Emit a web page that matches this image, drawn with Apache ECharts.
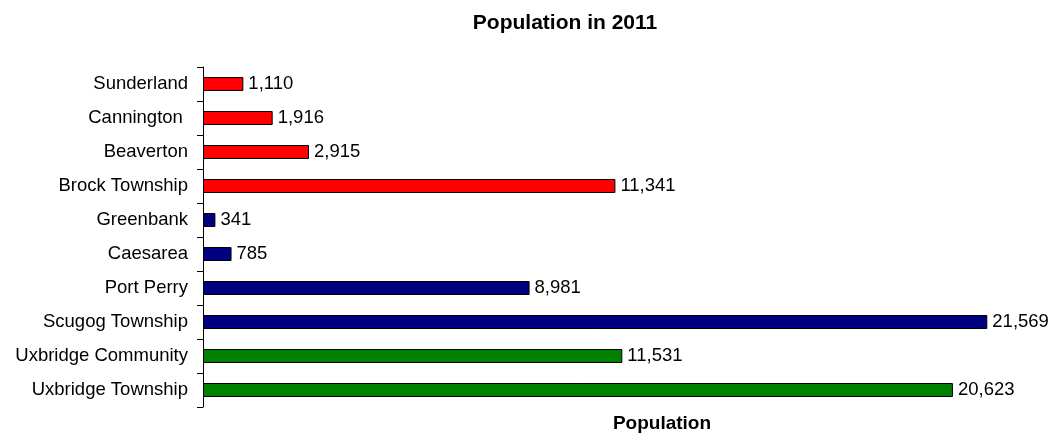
<!DOCTYPE html>
<html>
<head>
<meta charset="utf-8">
<script src="https://cdn.jsdelivr.net/npm/echarts@6/dist/echarts.min.js"></script>
<style>
  html, body { margin: 0; padding: 0; background: #fff; }
  #chart { width: 1054px; height: 435px; }
</style>
</head>
<body>
<div id="chart"></div>
<script>
// data, top to bottom
const places = ['Sunderland', 'Cannington ', 'Beaverton', 'Brock Township', 'Greenbank', 'Caesarea',
  'Port Perry', 'Scugog Township', 'Uxbridge Community', 'Uxbridge Township'];
const population = [1110, 1916, 2915, 11341, 341, 785, 8981, 21569, 11531, 20623];
const township = ['Brock', 'Brock', 'Brock', 'Brock', 'Scugog', 'Scugog', 'Scugog', 'Scugog', 'Uxbridge', 'Uxbridge'];

const townColor = { Brock: '#FF0000', Scugog: '#000080', Uxbridge: '#008000' };
const fontFam = 'Liberation Sans, Arial, sans-serif';

let myChart = echarts.init(document.getElementById('chart'));
myChart.setOption({
  animation: false,
  title: [{
    text: 'Population in 2011',
    left: 560,
    top: 8,
    textAlign: 'center',
    textStyle: { fontSize: 21, fontWeight: 'bold', color: '#000', fontFamily: fontFam }
  }, {
    text: 'Population',
    left: 657,
    top: 409,
    textAlign: 'center',
    textStyle: { fontSize: 19, fontWeight: 'bold', color: '#000', fontFamily: fontFam }
  }],
  grid: { left: 203, right: 51, top: 67, bottom: 28, containLabel: false },
  xAxis: {
    type: 'value',
    min: 0,
    max: 22000,
    show: false
  },
  yAxis: {
    type: 'category',
    inverse: true,
    data: places,
    axisLine: { show: true, lineStyle: { color: '#000', width: 1 } },
    axisTick: { show: true, length: 6, lineStyle: { color: '#000' } },
    axisLabel: { color: '#000', fontSize: 18.5, margin: 15, fontFamily: fontFam },
    splitLine: { show: false }
  },
  series: [{
    type: 'bar',
    barWidth: 14,
    data: population.map((v, i) => ({
      value: v,
      itemStyle: { color: townColor[township[i]], borderColor: '#000', borderWidth: 1 }
    })),
    label: {
      show: true,
      position: 'right',
      distance: 5,
      color: '#000',
      fontSize: 18.5,
      fontFamily: fontFam,
      formatter: p => p.value.toLocaleString('en-US')
    }
  }]
});
</script>
</body>
</html>
